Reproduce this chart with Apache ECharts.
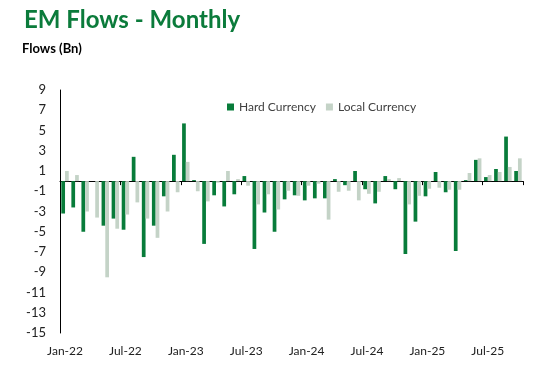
<!DOCTYPE html>
<html><head><meta charset="utf-8">
<script src="https://cdn.jsdelivr.net/npm/echarts@6/dist/echarts.min.js"></script>
<style>html,body{margin:0;padding:0;background:#fff}#c{width:534px;height:374px}</style>
</head><body><div id="c"></div>
<script>
var categories = ['Jan-22','Feb-22','Mar-22','Apr-22','May-22','Jun-22','Jul-22','Aug-22','Sep-22','Oct-22','Nov-22','Dec-22',
'Jan-23','Feb-23','Mar-23','Apr-23','May-23','Jun-23','Jul-23','Aug-23','Sep-23','Oct-23','Nov-23','Dec-23',
'Jan-24','Feb-24','Mar-24','Apr-24','May-24','Jun-24','Jul-24','Aug-24','Sep-24','Oct-24','Nov-24','Dec-24',
'Jan-25','Feb-25','Mar-25','Apr-25','May-25','Jun-25','Jul-25','Aug-25','Sep-25','Oct-25'];
var hardCurrency = [-3.2,-2.6,-5.0,0,-4.4,-3.7,-4.8,2.4,-7.5,-4.4,-1.5,2.6,
5.7,0.1,-6.2,-1.4,-2.5,-1.3,0.5,-6.7,-3.1,-5.0,-1.8,-1.4,
-1.9,-1.7,-1.7,0.2,-0.4,1.0,-0.8,-2.2,0.5,-0.8,-7.2,-4.0,
-1.5,0.9,-1.1,-6.9,0.1,2.1,0.4,1.2,4.4,1.0];
var localCurrency = [1.0,0.6,-3.0,-3.6,-9.5,-4.7,-3.3,-2.1,-3.7,-5.6,-3.0,-1.1,
1.9,-1.0,-2.0,-0.15,1.0,0.2,-0.45,-2.3,-1.3,-2.8,-0.95,-1.45,
-0.45,-0.25,-3.8,-1.05,-0.95,-1.9,-1.25,-1.05,0.2,0.3,-2.3,-1.45,
-0.75,-0.65,-0.85,-0.85,0.8,2.25,0.6,0.9,1.4,2.25];
var yMin = -15, yMax = 9;
var titleText = 'EM Flows - Monthly';
var unitText = 'Flows (Bn)';

var chart = echarts.init(document.getElementById('c'), null, {renderer:'canvas'});
var FONT = 'Lato, "Open Sans", sans-serif';
chart.setOption({
  animation:false,
  textStyle:{fontFamily:FONT},
  graphic:[
    {type:'text', x:24, y:20, style:{text:titleText, font:'bold 24px Lato', fill:'#0b7b3b',
      verticalAlign:'middle', align:'left',
      shadowColor:'rgba(210,190,40,0.45)', shadowOffsetX:0.8, shadowOffsetY:0.8, shadowBlur:0}},
    {type:'text', x:22, y:49, style:{text:unitText, font:'bold 13px Lato', fill:'#000',
      verticalAlign:'middle', align:'left'}}
  ],
  legend:{left:227, top:101, padding:0, itemWidth:7, itemHeight:7, itemGap:10, icon:'rect',
    textStyle:{fontFamily:FONT, fontSize:12, color:'#404040'},
    data:['Hard Currency','Local Currency']},
  grid:{left:60, right:11, top:90, bottom:41, containLabel:false},
  xAxis:[{type:'category', data:categories, position:'bottom',
      axisLine:{onZero:true, lineStyle:{color:'#000', width:1}},
      axisTick:{show:true, interval:5, length:4, lineStyle:{color:'#000'}},
      axisLabel:{show:false}, splitLine:{show:false}},
    {type:'category', data:categories, position:'bottom',
      axisLine:{show:false}, axisTick:{show:false},
      axisLabel:{interval:5, margin:12, fontFamily:FONT, fontSize:12, color:'#222'}}],
  yAxis:{type:'value', min:yMin, max:yMax, interval:1,
    axisLine:{show:true, lineStyle:{color:'#000'}}, axisTick:{show:false},
    splitLine:{show:false},
    axisLabel:{margin:14, fontFamily:FONT, fontSize:13, color:'#222',
      formatter:function(v){return Math.abs(v)%2===1 ? String(v) : '';}}},
  series:[
    {name:'Hard Currency', type:'bar', data:hardCurrency, xAxisIndex:0,
      itemStyle:{color:'#087c3a'}, barGap:'0%', barCategoryGap:'26%'},
    {name:'Local Currency', type:'bar', data:localCurrency, xAxisIndex:0,
      itemStyle:{color:'#c4d3c7'}, barGap:'0%', barCategoryGap:'26%'}
  ]
});
</script></body></html>
